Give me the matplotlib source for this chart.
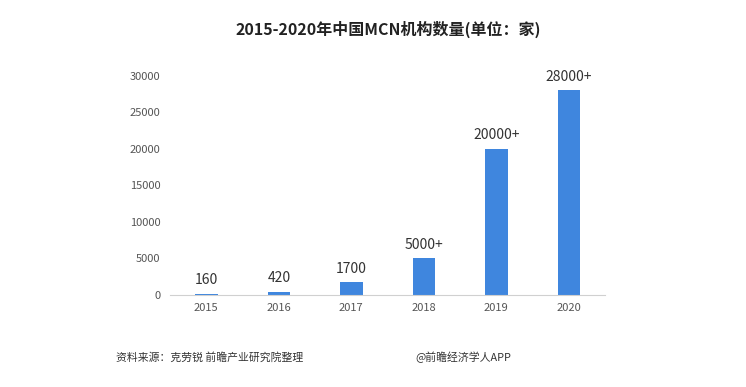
import matplotlib
matplotlib.use("Agg")
import matplotlib.pyplot as plt

plt.rcParams['font.family'] = ['Noto Sans CJK SC', 'DejaVu Sans']

years = ['2015', '2016', '2017', '2018', '2019', '2020']
counts = [160, 420, 1700, 5000, 20000, 28000]
labels = ['160', '420', '1700', '5000+', '20000+', '28000+']
yticks = [0, 5000, 10000, 15000, 20000, 25000, 30000]

fig = plt.figure(figsize=(7.46, 3.87), dpi=100)
ax = fig.add_axes([0.228, 0.238, 0.583, 0.566])

x = list(range(len(years)))
ax.bar(x, counts, width=0.31, color='#3F86DE', zorder=2)
for xi, v, lab in zip(x, counts, labels):
    ax.text(xi, v + 900, lab, ha='center', va='bottom', fontsize=10, color='#333333')

ax.set_xlim(-0.5, len(years) - 0.5)
ax.set_ylim(0, 30000)
ax.set_yticks(yticks)
ax.set_yticklabels([str(t) for t in yticks], fontsize=8, color='#555555')
ax.set_xticks(x)
ax.set_xticklabels(years, fontsize=8, color='#555555')
ax.tick_params(axis='both', length=0)
ax.tick_params(axis='y', pad=7)
ax.tick_params(axis='x', pad=6)
for s in ['top', 'right', 'left']:
    ax.spines[s].set_visible(False)
ax.spines['bottom'].set_color('#D0D0D0')

fig.text(0.52, 0.925, '2015-2020年中国MCN机构数量(单位：家)', ha='center', va='center',
         fontsize=11.5, fontweight='bold', color='#222222')
fig.text(0.155, 0.077, '资料来源：克劳锐 前瞻产业研究院整理', ha='left', va='center',
         fontsize=7.8, color='#333333')
fig.text(0.557, 0.077, '@前瞻经济学人APP', ha='left', va='center',
         fontsize=7.8, color='#333333')

fig.savefig('out.png', dpi=100)
